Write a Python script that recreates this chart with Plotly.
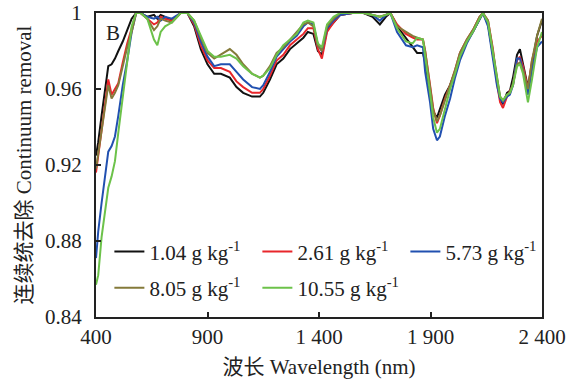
import plotly.graph_objects as go

wavelength = [400, 410, 425, 440, 455, 470, 485, 500, 520, 540, 560, 580, 600, 630, 660, 675, 690, 710, 740, 780,
              810, 840, 870, 900, 930, 960, 1000, 1030, 1060, 1100, 1135, 1150, 1180, 1210, 1240, 1270, 1300, 1330,
              1350, 1375, 1395, 1413, 1436, 1465, 1495, 1550, 1600, 1640, 1673, 1700, 1720, 1750, 1790, 1820, 1840,
              1866, 1876, 1898, 1912, 1929, 1942, 1965, 1988, 2010, 2032, 2063, 2090, 2120, 2135, 2158, 2180, 2198,
              2212, 2225, 2243, 2256, 2270, 2288, 2301, 2315, 2337, 2355, 2378, 2400]

s_104 = [0.925, 0.932, 0.946, 0.958, 0.972, 0.973, 0.976, 0.980, 0.985, 0.991, 0.997, 1.000, 1.000, 0.998, 0.999,
         0.997, 0.999, 0.998, 0.996, 1.000, 1.000, 0.993, 0.981, 0.973, 0.968, 0.968, 0.966, 0.961, 0.958, 0.956,
         0.956, 0.958, 0.965, 0.973, 0.976, 0.981, 0.984, 0.987, 0.990, 0.989, 0.980, 0.978, 0.991, 0.995, 0.999,
         1.000, 1.000, 0.998, 0.994, 0.998, 1.000, 0.993, 0.987, 0.982, 0.979, 0.979, 0.974, 0.958, 0.948, 0.945,
         0.949, 0.957, 0.962, 0.969, 0.978, 0.985, 0.990, 0.997, 1.000, 0.994, 0.978, 0.964, 0.955, 0.952, 0.958,
         0.959, 0.966, 0.978, 0.981, 0.973, 0.961, 0.973, 0.988, 0.996]

s_261 = [0.916, 0.925, 0.937, 0.950, 0.965, 0.957, 0.960, 0.963, 0.974, 0.984, 0.992, 1.000, 1.000, 0.997, 0.994,
         0.995, 0.998, 0.997, 0.996, 1.000, 1.000, 0.994, 0.983, 0.975, 0.971, 0.971, 0.969, 0.964, 0.961, 0.958,
         0.958, 0.960, 0.967, 0.975, 0.978, 0.983, 0.986, 0.989, 0.992, 0.992, 0.981, 0.976, 0.990, 0.995, 0.999,
         1.000, 1.000, 0.999, 0.998, 0.999, 1.000, 0.994, 0.989, 0.987, 0.986, 0.986, 0.980, 0.962, 0.950, 0.942,
         0.946, 0.955, 0.962, 0.970, 0.979, 0.986, 0.991, 0.998, 1.000, 0.996, 0.981, 0.963, 0.953, 0.950, 0.956,
         0.959, 0.962, 0.975, 0.977, 0.972, 0.960, 0.975, 0.985, 0.988]

s_573 = [0.871, 0.885, 0.900, 0.913, 0.927, 0.930, 0.935, 0.946, 0.962, 0.975, 0.990, 1.000, 1.000, 0.998, 0.997,
         0.998, 0.996, 0.998, 0.997, 1.000, 1.000, 0.995, 0.985, 0.977, 0.972, 0.973, 0.973, 0.969, 0.965, 0.961,
         0.960, 0.962, 0.969, 0.977, 0.981, 0.985, 0.988, 0.993, 0.995, 0.994, 0.983, 0.980, 0.992, 0.996, 0.999,
         1.000, 1.000, 0.999, 0.996, 0.999, 1.000, 0.990, 0.983, 0.982, 0.983, 0.982, 0.969, 0.953, 0.939, 0.933,
         0.935, 0.946, 0.955, 0.966, 0.975, 0.984, 0.990, 0.997, 1.000, 0.993, 0.977, 0.962, 0.955, 0.953, 0.956,
         0.957, 0.962, 0.976, 0.976, 0.970, 0.957, 0.970, 0.982, 0.985]

s_805 = [0.918, 0.926, 0.938, 0.950, 0.962, 0.955, 0.958, 0.962, 0.972, 0.982, 0.990, 1.000, 1.000, 0.997, 0.991,
         0.993, 0.997, 0.996, 0.995, 1.000, 1.000, 0.996, 0.987, 0.979, 0.976, 0.978, 0.981, 0.978, 0.973, 0.968,
         0.966, 0.967, 0.972, 0.979, 0.982, 0.986, 0.990, 0.994, 0.995, 0.993, 0.983, 0.980, 0.993, 0.997, 1.000,
         1.000, 1.000, 0.999, 0.998, 0.999, 1.000, 0.993, 0.990, 0.988, 0.987, 0.986, 0.980, 0.960, 0.949, 0.943,
         0.946, 0.954, 0.962, 0.970, 0.979, 0.986, 0.991, 0.998, 1.000, 0.996, 0.980, 0.965, 0.956, 0.954, 0.957,
         0.958, 0.963, 0.973, 0.974, 0.970, 0.960, 0.975, 0.988, 0.997]

s_1055 = [0.857, 0.862, 0.882, 0.895, 0.908, 0.914, 0.922, 0.937, 0.956, 0.976, 0.993, 1.000, 1.000, 0.997, 0.986,
          0.983, 0.990, 0.993, 0.995, 1.000, 1.000, 0.996, 0.988, 0.980, 0.977, 0.977, 0.978, 0.976, 0.972, 0.968,
          0.966, 0.967, 0.971, 0.978, 0.983, 0.986, 0.989, 0.995, 0.996, 0.995, 0.984, 0.982, 0.994, 0.998, 1.000,
          1.000, 1.000, 0.999, 0.998, 0.999, 1.000, 0.992, 0.985, 0.984, 0.987, 0.986, 0.978, 0.958, 0.945, 0.937,
          0.939, 0.950, 0.960, 0.968, 0.977, 0.985, 0.990, 0.997, 1.000, 0.995, 0.979, 0.964, 0.956, 0.954, 0.957,
          0.958, 0.962, 0.972, 0.973, 0.968, 0.953, 0.965, 0.982, 0.990]

series_names = ["1.04 g kg<sup>-1</sup>", "2.61 g kg<sup>-1</sup>", "5.73 g kg<sup>-1</sup>",
                "8.05 g kg<sup>-1</sup>", "10.55 g kg<sup>-1</sup>"]
series_values = [s_104, s_261, s_573, s_805, s_1055]
series_colors = ["#111111", "#e8262b", "#2150b0", "#847a3a", "#6cc24a"]
series_legend = ["legend", "legend", "legend", "legend2", "legend2"]

x_tickvals = [400, 900, 1400, 1900, 2400]
x_ticktext = ["400", "900", "1 400", "1 900", "2 400"]
y_tickvals = [0.84, 0.88, 0.92, 0.96, 1.0]
y_ticktext = ["0.84", "0.88", "0.92", "0.96", "1"]

FONT = "Liberation Serif, Times New Roman, Noto Sans CJK SC, serif"
FS = 21

fig = go.Figure()
for name, vals, col, lg in zip(series_names, series_values, series_colors, series_legend):
    fig.add_trace(go.Scatter(x=wavelength, y=vals, mode="lines", name=name,
                             line=dict(color=col, width=2), legend=lg))

legend_common = dict(orientation="h", xanchor="left", yanchor="middle",
                     entrywidth=103, entrywidthmode="pixels", bgcolor="rgba(0,0,0,0)",
                     font=dict(family=FONT, size=FS, color="#222222"))

fig.update_layout(
    width=582, height=381,
    margin=dict(l=96, r=40, t=13, b=64, autoexpand=False),
    paper_bgcolor="white", plot_bgcolor="white",
    font=dict(family=FONT, size=FS, color="#222222"),
    showlegend=True,
    legend=dict(x=0.03, y=0.214, **legend_common),
    legend2=dict(x=0.03, y=0.095, **legend_common),
    annotations=[dict(text="B", x=0.018, y=0.934, xref="paper", yref="paper",
                      xanchor="left", yanchor="middle", showarrow=False,
                      font=dict(family=FONT, size=FS, color="#222222"))],
)

fig.update_xaxes(range=[400, 2400], tickvals=x_tickvals, ticktext=x_ticktext,
                 showline=True, linecolor="#222222", linewidth=2, mirror=True,
                 ticks="inside", ticklen=5, tickcolor="#222222", tickwidth=1.5,
                 showgrid=False, zeroline=False, automargin=False,
                 title=dict(text="波长 Wavelength (nm)", standoff=11,
                            font=dict(family=FONT, size=FS, color="#222222")))
fig.update_yaxes(range=[0.84, 1.0], tickvals=y_tickvals, ticktext=y_ticktext,
                 showline=True, linecolor="#222222", linewidth=2, mirror=True,
                 ticks="inside", ticklen=5, tickcolor="#222222", tickwidth=1.5,
                 showgrid=False, zeroline=False, ticklabelstandoff=8, automargin=False,
                 title=dict(text="连续统去除 Continuum removal", standoff=8,
                            font=dict(family=FONT, size=FS, color="#222222")))

fig.write_html("out.html")
